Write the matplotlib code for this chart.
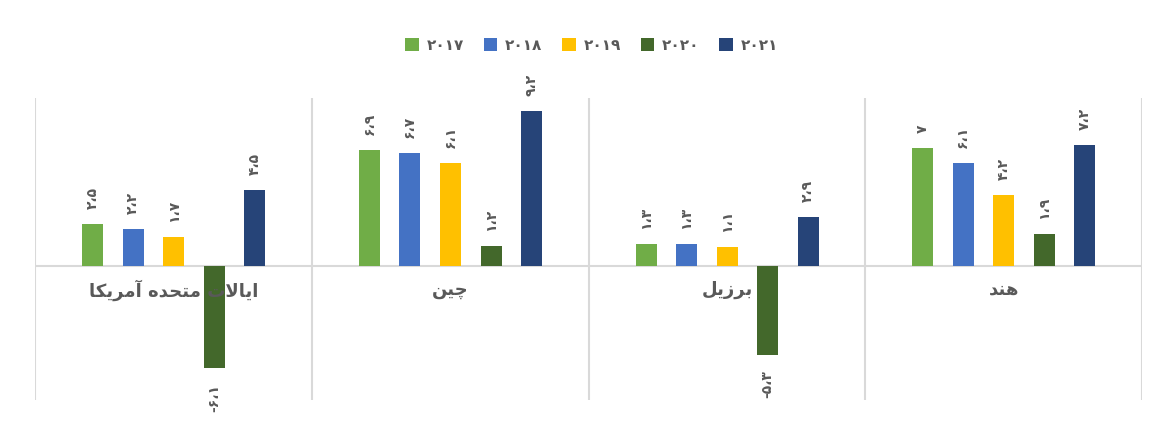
import numpy as np
import matplotlib.pyplot as plt
from matplotlib.patches import Patch

# data (left to right as drawn in the picture)
countries = ['ایالات متحده آمریکا', 'چین', 'برزیل', 'هند']
years = ['۲۰۱۷', '۲۰۱۸', '۲۰۱۹', '۲۰۲۰', '۲۰۲۱']
v2017 = [2.5, 6.9, 1.3, 7.0]
v2018 = [2.2, 6.7, 1.3, 6.1]
v2019 = [1.7, 6.1, 1.1, 4.2]
v2020 = [-6.1, 1.2, -5.3, 1.9]
v2021 = [4.5, 9.2, 2.9, 7.2]
series = [v2017, v2018, v2019, v2020, v2021]
colors = ['#70AD47', '#4472C4', '#FFC000', '#43682B', '#264478']

GRAY = '#595959'
FONT = ['DejaVu Sans']

# minimal persian shaping so matplotlib shows joined letters
FORMS = {
    'ا': (0xFE8D, 0xFE8E), 'آ': (0xFE81, 0xFE82),
    'د': (0xFEA9, 0xFEAA), 'ر': (0xFEAD, 0xFEAE), 'ز': (0xFEAF, 0xFEB0),
    'ب': (0xFE8F, 0xFE90, 0xFE91, 0xFE92), 'ت': (0xFE95, 0xFE96, 0xFE97, 0xFE98),
    'ح': (0xFEA1, 0xFEA2, 0xFEA3, 0xFEA4), 'ل': (0xFEDD, 0xFEDE, 0xFEDF, 0xFEE0),
    'م': (0xFEE1, 0xFEE2, 0xFEE3, 0xFEE4), 'ن': (0xFEE5, 0xFEE6, 0xFEE7, 0xFEE8),
    'ه': (0xFEE9, 0xFEEA, 0xFEEB, 0xFEEC), 'ی': (0xFBFC, 0xFBFD, 0xFBFE, 0xFBFF),
    'ک': (0xFB8E, 0xFB8F, 0xFB90, 0xFB91), 'چ': (0xFB7A, 0xFB7B, 0xFB7C, 0xFB7D),
}


def shape(text):
    out = []
    chars = list(text)
    i = 0
    while i < len(chars):
        c = chars[i]
        if c not in FORMS:
            out.append(c)
            i += 1
            continue
        prev = chars[i - 1] if i > 0 else ' '
        joins_prev = prev in FORMS and len(FORMS[prev]) == 4
        if c == 'ل' and i + 1 < len(chars) and chars[i + 1] == 'ا':
            out.append(chr(0xFEFC if joins_prev else 0xFEFB))
            i += 2
            continue
        nxt = chars[i + 1] if i + 1 < len(chars) else ' '
        f = FORMS[c]
        joins_next = len(f) == 4 and nxt in FORMS
        if joins_prev and joins_next:
            code = f[3]
        elif joins_next:
            code = f[2]
        elif joins_prev:
            code = f[1]
        else:
            code = f[0]
        out.append(chr(code))
        i += 1
    return ''.join(out[::-1])


def fa_num(v):
    digits = '۰۱۲۳۴۵۶۷۸۹'
    s = ('%g' % abs(v)).replace('.', '،')
    s = ''.join(digits[int(ch)] if ch.isdigit() else ch for ch in s)
    return ('-' if v < 0 else '') + s


fig = plt.figure(figsize=(11.6, 4.26), dpi=100)
ax = fig.add_axes([0.0306, 0.061, 0.9539, 0.709])

x = np.arange(len(countries))
offsets = [-0.293, -0.147, 0.0, 0.147, 0.293]
width = 0.076

for vals, off, col in zip(series, offsets, colors):
    bars = ax.bar(x + off, vals, width, color=col, zorder=3)
    for b, v in zip(bars, vals):
        if v >= 0:
            ax.annotate(fa_num(v), (b.get_x() + b.get_width() / 2, v),
                        xytext=(0, 15), textcoords='offset pixels',
                        ha='center', va='bottom', rotation=90,
                        fontsize=10, fontweight='bold', color=GRAY, family=FONT)
        else:
            ax.annotate(fa_num(v), (b.get_x() + b.get_width() / 2, v),
                        xytext=(0, -16), textcoords='offset pixels',
                        ha='center', va='top', rotation=90,
                        fontsize=10, fontweight='bold', color=GRAY, family=FONT)

ax.set_xlim(-0.5, len(countries) - 0.5)
ax.set_ylim(-8, 10)
ax.axhline(0, color='#D9D9D9', lw=1.5, zorder=2)
for xv in np.arange(len(countries) + 1) - 0.5:
    ax.axvline(xv, color='#D9D9D9', lw=1.5, zorder=2)

for xi, name in zip(x, countries):
    ax.annotate(shape(name), (xi, 0), xytext=(0, -24), textcoords='offset pixels',
                ha='center', va='center', fontsize=13, fontweight='bold',
                color=GRAY, family=FONT)

for s in ax.spines.values():
    s.set_visible(False)
ax.set_xticks([])
ax.set_yticks([])

handles = [Patch(facecolor=c, edgecolor='none') for c in colors]
fig.legend(handles, years, loc='center', bbox_to_anchor=(0.51, 0.894), ncol=5,
           frameon=False, handlelength=0.9, handleheight=0.9, handletextpad=0.5,
           columnspacing=1.3, prop={'family': FONT, 'weight': 'bold', 'size': 11},
           labelcolor=GRAY)

fig.savefig('out.png', dpi=100, facecolor='white')
